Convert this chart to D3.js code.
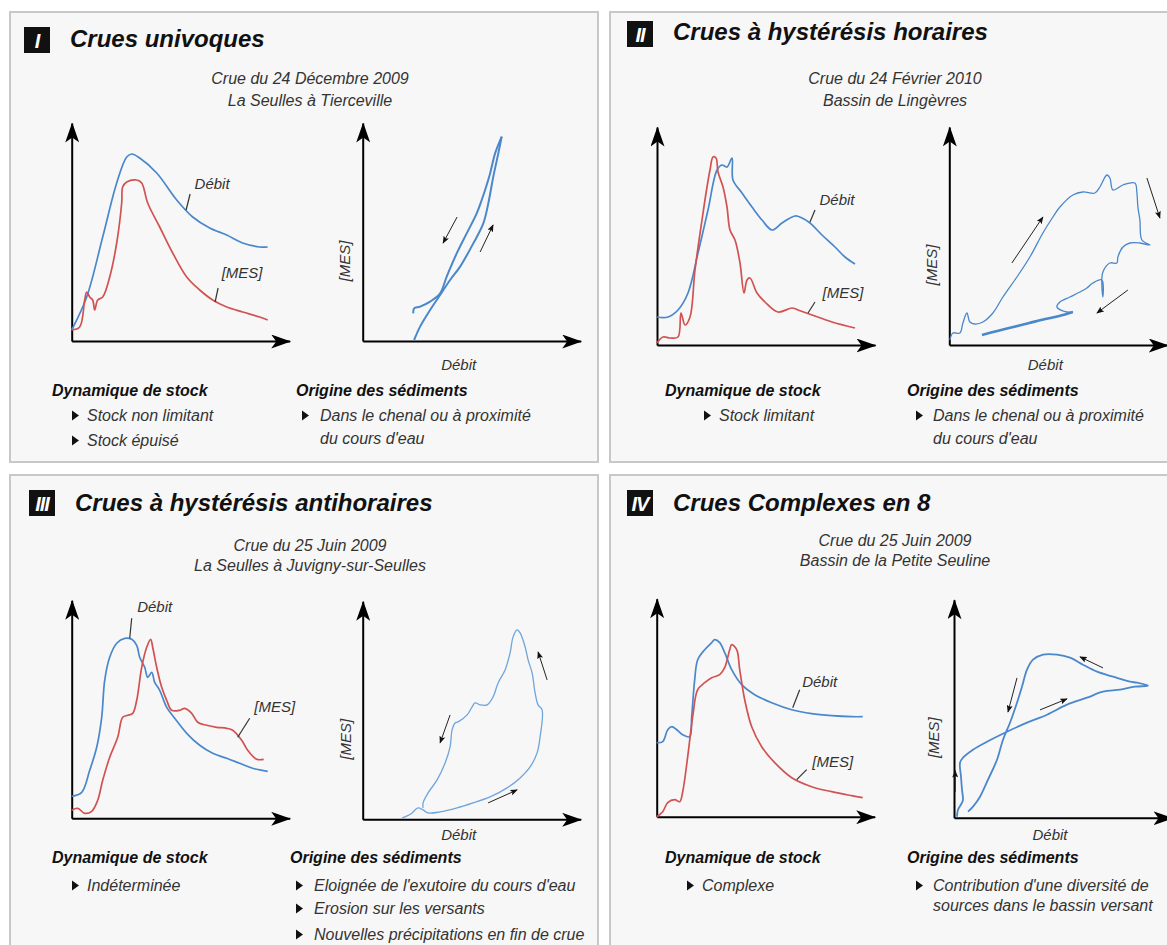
<!DOCTYPE html>
<html><head><meta charset="utf-8">
<script src="https://cdn.jsdelivr.net/npm/d3@7"></script>
<style>
body{margin:0;background:#fff;}
svg{display:block;font-family:"Liberation Sans",Arial,sans-serif;}
</style>
</head><body>
<svg id="c" width="1167" height="945"></svg>
<script>
// ================= DATA (normalised units, 0–100) =================
// Panel I – Crue du 24 Décembre 2009, La Seulles à Tierceville
const I_t_debit = [0,7.5,15.5,22.5,27.5,30,34,42.5,52.5,60.5,69,77.5,85.5,94,98];
const I_debit   = [5.5,22,52,79,92,93.5,91.5,84,70.5,62,56.5,53,49,47,47];
const I_t_mes   = [0,4,6.5,7.5,9,10.5,11.5,13,15.5,19,22.5,25,25.5,27.5,32.5,35,38,44,50.5,57.5,64,70.5,77.5,85.5,94,98];
const I_mes     = [5.5,7,20.5,24.5,22,20.5,15.5,20.5,22,32,49,69,77,79.5,80.5,79,69,57,44,32,25.5,20.5,17,14.5,12,10.5];
const I_rise_q  = [25.7,28.7,33.7,38.7,43.7,48.7,55.3,60.3,62.8,65.3,67.8,69.5];
const I_rise_c  = [0.5,7.2,15.5,23,30.5,37.2,48.8,58.8,68.8,82.2,93.8,102.2];
const I_fall_q  = [69.5,66.2,63.7,61.2,59.5,57,52,47,42,38.7,33.7,28.7,25.7,25.3];
const I_fall_c  = [102.2,93.8,83.8,75.5,70.5,63.8,53.8,43.8,32.2,23.8,19.7,17.2,16.3,13.8];

// Panel II – Crue du 24 Février 2010, Bassin de Lingèvres
const II_t_debit = [0,5.5,10.5,15.5,20.5,25.5,30,32.5,35,37.5,38,42.5,47.5,52.5,57.5,62.5,69,72.5,76.5,82.5,89,94,99];
const II_debit   = [14,14,17.5,26,46,67.5,87.5,90,89,93.5,82.5,76,69,62.5,57.5,61,64.5,63.5,61,55,49,44,40.5];
const II_t_mes   = [0,3,6.5,10.5,12,14,16.5,19,22.5,25,26.5,28,29.5,30.5,33,35,36.5,39,41.5,43.5,45,46.5,50,54,60.5,67.5,70.5,77.5,87.5,99];
const II_mes     = [1,4,3.5,4,16,10,14,37.5,62.5,79,87.5,94,93.5,86.5,79,69,57.5,52.5,41,26,32.5,33.5,26,21.5,16.5,18.5,17.5,15,11.5,8.5];
const II_loop_q  = [0.3,1.8,5.3,6.8,8.8,10.3,12.8,16.8,21.8,26.8,33.8,40.3,46.8,51.8,55.3,61.8,66.8,72.8,75.3,78.8,80.3,81.8,86.8,92.8,93.8,94.3,95.3,96.3,100.3,95.3,90.3,86.8,84.3,83.8,80.3,76.8,76.3,76.8,76.3,71.8,68.8,65.3,60.3,55.3,53.8,58.8,61.8];
const II_loop_c  = [2.5,6,6,11,16,11.5,10.5,11.5,16,24,34,44,56,64,69,75,76.5,76,79,85,83.5,77.5,80,81,76,69,62.5,52.5,50,51,51,49,44,41,41,36.5,29,24,32.5,31,28.5,26.5,24,21.5,19,16.5,16.5];
const II_tail_q  = [61.8,55,48,40,32,24,16.3];
const II_tail_c  = [16.5,14.5,13,11,9,7,5];

// Panel III – Crue du 25 Juin 2009, La Seulles à Juvigny-sur-Seulles
const III_t_debit = [0,5,9,12.5,15,16.5,19,22.5,26.5,30,32.5,34,36.5,38,40,41.5,44,47.5,51.5,57.5,64,70.5,77.5,84,90.5,98];
const III_debit   = [11,13,24,35.5,50.5,69,80.5,87.5,90,89.5,86.5,80.5,75.5,70.5,73,68,64,55.5,50,42.5,36.5,32.5,30,27.5,25,23.5];
const III_t_mes   = [0,3,6.5,10,13,15.5,19,23,25.5,28,30.5,32.5,35,37.5,39.5,40.5,42.5,45,47.5,50,54,56.5,60,63,67.5,72.5,77.5,80.5,85,88,92.5,96];
const III_mes     = [4,5,2.5,3.5,9,19,30.5,40.5,50.5,51.5,52.5,59,75.5,85.5,89.5,85.5,75.5,65.5,59,54,54,55,52.5,48,46.5,45.5,45,44,39,34,29.5,29.5];
const III_loop_q  = [19.7,22.2,24.7,26.2,27.7,30.2,32.7,38.7,47.2,55.2,63.7,72.2,78.7,83.7,87.2,88.7,89.7,87.7,86.2,84.7,82.7,81.2,78.7,77.2,75.2,73.7,71.2,67.7,65.2,62.2,58.7,56.2,54.7,52.2,47.7,46.2,44.7,43.7,41.2,37.2,32.7,30.2,30.2];
const III_loop_c  = [0.7,1.7,3.2,4.7,5.7,4.7,3.2,3.7,5.7,8.2,11.2,15.7,20.7,26.2,33.2,41.2,54.7,57.2,63.2,73.2,79.7,86.2,93.2,94.7,91.2,83.2,74.7,68.2,61.2,57.2,57.2,58.2,56.2,52.2,48.7,48.2,44.7,36.2,28.2,19.7,13.2,8.2,5.7];

// Panel IV – Crue du 25 Juin 2009, Bassin de la Petite Seuline
const IV_t_debit = [0,3,5.5,7.5,10,13,16.5,17.5,19,20.5,24,27.5,29,31.5,34,37.5,42.5,49,57.5,67.5,77.5,87.5,97.5,103];
const IV_debit   = [37,37.5,43.5,45,43.5,41,40,50,68.5,78.5,83.5,87,88.5,87,82,73.5,66,61,57,53.5,51.5,50.5,50,50];
const IV_t_mes   = [0,3,5.5,9,11.5,13,15.5,18,20.5,24,27.5,31.5,34,36.5,37.5,40,41.5,44,47.5,52.5,59,67.5,77.5,87.5,97.5,103];
const IV_mes     = [0,2.5,7,8.5,7.5,12.5,30,50,63.5,67,69.5,71,74.5,83.5,86,83.5,73.5,58.5,45,35,27,19.5,15,12.5,10.5,9.5];
const IV_loop_q  = [1.5,2,4,4.5,4,3.5,3,4.5,9.5,16.5,26.5,36.5,46.5,56.5,66.5,74.5,83,90.5,97,91.5,88,79.5,71.5,64.5,58,51.5,44.5,39.5,36.5,34,31.5,28,24.5,21.5,17,13,9.5,7];
const IV_loop_c  = [0.5,4,7.5,9,14,20.5,27.5,30,34,38,43,47.5,51.5,56.5,60,63,64,65.5,66,67.5,68,70.5,73,76.5,80,81.5,81.5,79,74,65.5,57.5,47.5,39,29,19,10.5,5.5,3];

// Text content
const titles    = ["Crues univoques","Crues à hystérésis horaires","Crues à hystérésis antihoraires","Crues Complexes en 8"];
const numerals  = ["I","II","III","IV"];
const subtitles = [["Crue du 24 Décembre 2009","La Seulles à Tierceville"],["Crue du 24 Février 2010","Bassin de Lingèvres"],["Crue du 25 Juin 2009","La Seulles à Juvigny-sur-Seulles"],["Crue du 25 Juin 2009","Bassin de la Petite Seuline"]];
const stockItems  = [["Stock non limitant","Stock épuisé"],["Stock limitant"],["Indéterminée"],["Complexe"]];
const originItems = [[["Dans le chenal ou à proximité","du cours d'eau"]],[["Dans le chenal ou à proximité","du cours d'eau"]],[["Eloignée de l'exutoire du cours d'eau"],["Erosion sur les versants"],["Nouvelles précipitations en fin de crue"]],[["Contribution d'une diversité de","sources dans le bassin versant"]]];

// ================= LAYOUT =================
const BLUE = "#4a87cb", RED = "#d25252", LBLUE = "#6fa4dd";
const layout = [
  {box:[10,12,588,450], badge:[24,27], titleY:47, subX:310, subY:[84,106], headY:396, stockX:52, stockTri:75, stockTxt:87, stockY:[421,446], originX:296, originTri:305, originTxt:320, originY:[421],  lineH:23,
   time:{ox:71.7, oy:341}, loop:{ox:362.7, oy:341, mesX:350, debitY:364}},
  {box:[610,12,570,450], badge:[627,21], titleY:40, subX:895, subY:[84,106], headY:396, stockX:665, stockTri:707, stockTxt:719, stockY:[421], originX:907, originTri:919, originTxt:933, originY:[421], lineH:23,
   time:{ox:657, oy:345}, loop:{ox:949.3, oy:345, mesX:937, debitY:364}},
  {box:[10,475,588,480], badge:[29,490], titleY:511, subX:310, subY:[551,571], headY:863, stockX:52, stockTri:75, stockTxt:87, stockY:[891], originX:290, originTri:299, originTxt:314, originY:[891,914,940], lineH:23,
   time:{ox:71.7, oy:818.3}, loop:{ox:362.7, oy:819.3, mesX:351, debitY:834}},
  {box:[610,475,570,480], badge:[627,490], titleY:511, subX:895, subY:[546,566], headY:863, stockX:665, stockTri:690, stockTxt:702, stockY:[891], originX:907, originTri:919, originTxt:933, originY:[891], lineH:20,
   time:{ox:656.7, oy:816.7}, loop:{ox:954, oy:817.7, mesX:939, debitY:834}}
];

const timeSeries = [
  [{t:I_t_debit, v:I_debit, c:BLUE}, {t:I_t_mes, v:I_mes, c:RED}],
  [{t:II_t_debit, v:II_debit, c:BLUE}, {t:II_t_mes, v:II_mes, c:RED}],
  [{t:III_t_debit, v:III_debit, c:BLUE}, {t:III_t_mes, v:III_mes, c:RED}],
  [{t:IV_t_debit, v:IV_debit, c:BLUE}, {t:IV_t_mes, v:IV_mes, c:RED}]
];
// label annotations in data units: text position + leader line
const timeLabels = [
  [{txt:"Débit", at:[70.2,79], lead:[59.2,73.5,57.2,65.5]}, {txt:"[MES]", at:[85.2,34.5], lead:[73.2,26.5,71.7,19.5]}],
  [{txt:"Débit", at:[90,73], lead:[79,67.5,76.5,61.5]}, {txt:"[MES]", at:[93,26.5], lead:[79,21.5,75.5,16]}],
  [{txt:"Débit", at:[41.5,106], lead:[30,100,29,90]}, {txt:"[MES]", at:[101.5,56], lead:[89,50,83,40.5]}],
  [{txt:"Débit", at:[81.5,67.5], lead:[71.5,63.5,68,54.5]}, {txt:"[MES]", at:[88,27.5], lead:[75,23.5,70,18.5]}]
];
const loopSeries = [
  [{q:I_rise_q, c:I_rise_c, w:2, col:BLUE}, {q:I_fall_q, c:I_fall_c, w:2, col:BLUE}],
  [{q:II_loop_q, c:II_loop_c, w:1.3, col:BLUE}, {q:II_tail_q, c:II_tail_c, w:2.6, col:BLUE}],
  [{q:III_loop_q, c:III_loop_c, w:1.3, col:LBLUE}],
  [{q:IV_loop_q, c:IV_loop_c, w:1.8, col:BLUE}]
];
const loopArrows = [
  [[47.2,62,40.2,49],[58.7,44.5,65.2,58]],
  [[31.3,41,46.8,64],[98.8,83.5,105.3,63.5],[89.3,27.5,73.8,16]],
  [[92.2,69.7,87.7,83.7],[43.7,52.2,38.7,38.2],[62.7,8.2,77.2,14.7]],
  [[74.5,74.9,63,80.4],[31.5,69.9,27,52.9],[43,53.9,56.5,59.4],[0.6,12.9,0.6,23.5]]
];

// ================= DRAW =================
const svg = d3.select("#c");
const defs = svg.append("defs");
defs.append("marker").attr("id","axArrow").attr("viewBox","0 0 20 14").attr("refX",19).attr("refY",7)
  .attr("markerWidth",20).attr("markerHeight",14).attr("markerUnits","userSpaceOnUse").attr("orient","auto")
  .append("path").attr("d","M0,0L20,7L0,14L5,7Z").attr("fill","#000");
defs.append("marker").attr("id","smArrow").attr("viewBox","0 0 10 8").attr("refX",9).attr("refY",4)
  .attr("markerWidth",8).attr("markerHeight",6).attr("markerUnits","userSpaceOnUse").attr("orient","auto")
  .append("path").attr("d","M0,0L10,4L0,8L2,4Z").attr("fill","#111");

function drawAxes(g, x, y) {
  const ax = x.copy().domain([0,109]).range([x(0), x(109)]);
  const ay = y.copy().domain([0,109]).range([y(0), y(109)]);
  g.append("g").attr("transform",`translate(0,${y(0)})`)
    .call(d3.axisBottom(ax).tickValues([]).tickSizeOuter(0))
    .call(s => s.select(".domain").attr("stroke","#000").attr("stroke-width",2).attr("marker-end","url(#axArrow)"));
  g.append("g").attr("transform",`translate(${x(0)},0)`)
    .call(d3.axisLeft(ay).tickValues([]).tickSizeOuter(0))
    .call(s => s.select(".domain").attr("stroke","#000").attr("stroke-width",2).attr("marker-end","url(#axArrow)"));
}

const TXT = 16, LBL = 15;
layout.forEach((L, i) => {
  const g = svg.append("g");
  const [bx,by,bw,bh] = L.box;
  g.append("rect").attr("x",bx).attr("y",by).attr("width",bw).attr("height",bh)
    .attr("fill","#f7f7f7").attr("stroke","#c8c8c8").attr("stroke-width",2);
  // badge
  g.append("rect").attr("x",L.badge[0]).attr("y",L.badge[1]).attr("width",26).attr("height",26).attr("fill","#111");
  g.append("text").attr("x",L.badge[0]+13).attr("y",L.badge[1]+21).attr("text-anchor","middle")
    .attr("fill","#fff").attr("font-size",20).attr("font-weight","bold").attr("font-style","italic")
    .attr("letter-spacing",-1).text(numerals[i]);
  g.append("text").attr("x",L.badge[0]+46).attr("y",L.titleY).attr("font-size",24).attr("font-weight","bold")
    .attr("font-style","italic").attr("fill","#111").text(titles[i]);
  subtitles[i].forEach((s,k) => g.append("text").attr("x",L.subX).attr("y",L.subY[k]).attr("text-anchor","middle")
    .attr("font-size",TXT).attr("font-style","italic").attr("fill","#333").text(s));

  // ---- time chart
  const T = L.time;
  const x = d3.scaleLinear().domain([0,100]).range([T.ox, T.ox+200]);
  const y = d3.scaleLinear().domain([0,100]).range([T.oy, T.oy-200]);
  drawAxes(g, x, y);
  const line = d3.line().x(d => x(d[0])).y(d => y(d[1])).curve(d3.curveCatmullRom.alpha(0.5));
  timeSeries[i].forEach(s => {
    g.append("path").attr("d", line(d3.zip(s.t, s.v))).attr("fill","none")
      .attr("stroke", s.c).attr("stroke-width",1.7).attr("stroke-linejoin","round");
  });
  timeLabels[i].forEach(l => {
    g.append("line").attr("x1",x(l.lead[0])).attr("y1",y(l.lead[1])).attr("x2",x(l.lead[2])).attr("y2",y(l.lead[3]))
      .attr("stroke","#333").attr("stroke-width",1.2);
    g.append("text").attr("x",x(l.at[0])).attr("y",y(l.at[1])+5.5).attr("text-anchor","middle")
      .attr("font-size",LBL).attr("font-style","italic").attr("fill","#333").text(l.txt);
  });

  // ---- loop chart
  const P = L.loop;
  const qx = d3.scaleLinear().domain([0,100]).range([P.ox, P.ox+200]);
  const cy = d3.scaleLinear().domain([0,100]).range([P.oy, P.oy-200]);
  drawAxes(g, qx, cy);
  const lline = d3.line().x(d => qx(d[0])).y(d => cy(d[1])).curve(d3.curveCatmullRom.alpha(0.5));
  loopSeries[i].forEach(s => {
    g.append("path").attr("d", lline(d3.zip(s.q, s.c))).attr("fill","none")
      .attr("stroke", s.col).attr("stroke-width", s.w).attr("stroke-linejoin","round");
  });
  loopArrows[i].forEach(a => {
    g.append("line").attr("x1",qx(a[0])).attr("y1",cy(a[1])).attr("x2",qx(a[2])).attr("y2",cy(a[3]))
      .attr("stroke","#222").attr("stroke-width",1).attr("marker-end","url(#smArrow)");
  });
  g.append("text").attr("transform",`translate(${P.mesX},${cy(40)}) rotate(-90)`).attr("text-anchor","middle")
    .attr("font-size",LBL).attr("font-style","italic").attr("fill","#333").text("[MES]");
  g.append("text").attr("x",qx(48)).attr("y",P.debitY+5.5).attr("text-anchor","middle")
    .attr("font-size",LBL).attr("font-style","italic").attr("fill","#333").text("Débit");

  // ---- text blocks
  g.append("text").attr("x",L.stockX).attr("y",L.headY).attr("font-size",16).attr("font-weight","bold")
    .attr("font-style","italic").attr("fill","#111").text("Dynamique de stock");
  g.append("text").attr("x",L.originX).attr("y",L.headY).attr("font-size",16).attr("font-weight","bold")
    .attr("font-style","italic").attr("fill","#111").text("Origine des sédiments");
  const tri = (cx, cyy) => g.append("path").attr("d",`M${cx-3},${cyy-5}L${cx+4},${cyy}L${cx-3},${cyy+5}Z`).attr("fill","#111");
  stockItems[i].forEach((s,k) => {
    tri(L.stockTri, L.stockY[k]-5.5);
    g.append("text").attr("x",L.stockTxt).attr("y",L.stockY[k]).attr("font-size",TXT).attr("font-style","italic")
      .attr("fill","#333").text(s);
  });
  originItems[i].forEach((item,k) => {
    const yy = L.originY.length > k ? L.originY[k] : L.originY[0];
    tri(L.originTri, yy-5.5);
    item.forEach((s,j) => g.append("text").attr("x",L.originTxt).attr("y",yy + j*L.lineH).attr("font-size",TXT)
      .attr("font-style","italic").attr("fill","#333").text(s));
  });
});
</script>
</body></html>
